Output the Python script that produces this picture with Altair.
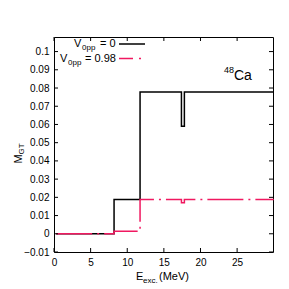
import altair as alt
import pandas as pd

# Data
black_x = [0.3, 8.2, 11.75, 17.4, 17.8, 30.0]
black_y = [0.0, 0.0188, 0.0778, 0.059, 0.0778, 0.0778]
red_x = [0.3, 8.2, 11.75, 17.4, 17.8, 30.0]
red_y = [0.0, 0.0014, 0.0188, 0.0170, 0.0188, 0.0188]

x_ticks = [0, 5, 10, 15, 20, 25]
y_ticks = [-0.01, 0.0, 0.01, 0.02, 0.03, 0.04, 0.05, 0.06, 0.07, 0.08, 0.09, 0.1]

W, H = 219, 215
FONT = "Liberation Sans"
BLACK = "#000000"
RED = "#f01860"

xs = alt.Scale(domain=[0, 29.9], nice=False, zero=False)
ys = alt.Scale(domain=[-0.01, 0.108], nice=False, zero=False)

XAX = alt.Axis(values=x_ticks, title=None, tickSize=0, domain=False, grid=False,
               labelFont=FONT, labelFontSize=10, labelColor="#000", labelPadding=5,
               labelOverlap=False, labelFlush=False)
YAX = alt.Axis(values=y_ticks, title=None, tickSize=0, domain=False, grid=False,
               labelFont=FONT, labelFontSize=10, labelColor="#000", labelPadding=5,
               format="~g", labelOverlap=False, labelFlush=False)


def X():
    return alt.X("x:Q", scale=xs, axis=XAX)


def Y():
    return alt.Y("y:Q", scale=ys, axis=YAX)


df_b = pd.DataFrame({"x": black_x, "y": black_y})
df_r = pd.DataFrame({"x": red_x, "y": red_y})

black = alt.Chart(df_b).mark_line(interpolate="step-after", color=BLACK, strokeWidth=1.5).encode(
    x=X(), y=Y())
red = alt.Chart(df_r).mark_line(interpolate="step-after", color=RED, strokeWidth=1.5,
                                strokeDash=[36, 5, 2, 5]).encode(x=X(), y=Y())

# inward ticks
dxt = pd.DataFrame({"x": x_ticks})
dyt = pd.DataFrame({"y": y_ticks})
tb = alt.Chart(dxt).mark_rule(color="#000", strokeWidth=1).encode(
    x=X(), y=alt.value(H), y2=alt.value(H - 4))
tt = alt.Chart(dxt).mark_rule(color="#000", strokeWidth=1).encode(
    x=X(), y=alt.value(0), y2=alt.value(4))
tl = alt.Chart(dyt).mark_rule(color="#000", strokeWidth=1).encode(
    y=Y(), x=alt.value(0), x2=alt.value(4))
tr = alt.Chart(dyt).mark_rule(color="#000", strokeWidth=1).encode(
    y=Y(), x=alt.value(W), x2=alt.value(W - 4))

OX, OY = 54, 37  # plot origin in page coords


def txt(s, x, y, size=11, align="left", baseline="alphabetic", angle=0, color="#000"):
    kw = dict(text=s, align=align, baseline=baseline, font=FONT, fontSize=size, color=color)
    if angle:
        kw["angle"] = angle
    return alt.Chart(pd.DataFrame({"a": [0]})).mark_text(**kw).encode(
        x=alt.value(x - OX), y=alt.value(y - OY))


labels = [
    # legend
    txt("V", 74, 47), txt("0pp", 82, 50, size=8), txt("= 0", 100, 47),
    txt("V", 60, 62), txt("0pp", 68, 65, size=8), txt("= 0.98", 85, 62),
    # 48Ca
    txt("48", 224, 73, size=9), txt("Ca", 234, 80, size=14),
    # x title
    txt("E", 136, 280), txt("exc.", 143, 283, size=8), txt("(MeV)", 159, 280),
    # y title
    txt("M", 19, 159, angle=270, align="center", baseline="middle"),
    txt("GT", 22, 149, size=8, angle=270, align="center", baseline="middle"),
]

leg_b = alt.Chart(pd.DataFrame({"a": [0]})).mark_rule(color=BLACK, strokeWidth=1.5).encode(
    x=alt.value(119 - OX), x2=alt.value(145 - OX), y=alt.value(44 - OY))
leg_r = alt.Chart(pd.DataFrame({"a": [0]})).mark_rule(color=RED, strokeWidth=1.5,
                                                   strokeDash=[14, 6, 2, 6]).encode(
    x=alt.value(119 - OX), x2=alt.value(145 - OX), y=alt.value(58.5 - OY))

chart = alt.layer(black, red, tb, tt, tl, tr, leg_b, leg_r, *labels).properties(
    width=W, height=H,
    autosize=alt.AutoSizeParams(type="none"),
    padding={"left": OX - 8, "top": OY - 8, "right": 8, "bottom": 36},
    background="white",
).configure_view(stroke="#000", strokeWidth=1)

chart.save("out.html", embed_options={"renderer": "svg", "actions": False})
